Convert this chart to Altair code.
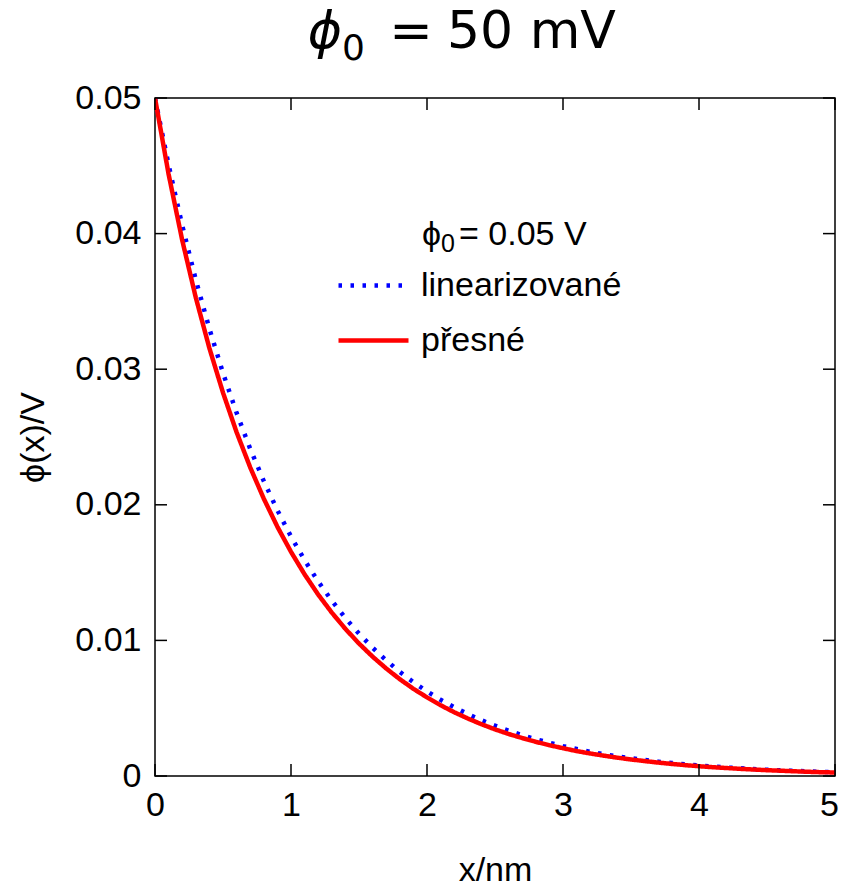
import altair as alt
import pandas as pd

# ---- data ----
x_nm = [0.0, 0.1, 0.2, 0.3, 0.4, 0.5, 0.6, 0.7, 0.8, 0.9,
        1.0, 1.1, 1.2, 1.3, 1.4, 1.5, 1.6, 1.7, 1.8, 1.9,
        2.0, 2.1, 2.2, 2.3, 2.4, 2.5, 2.6, 2.7, 2.8, 2.9,
        3.0, 3.1, 3.2, 3.3, 3.4, 3.5, 3.6, 3.7, 3.8, 3.9,
        4.0, 4.1, 4.2, 4.3, 4.4, 4.5, 4.6, 4.7, 4.8, 4.9, 5.0]

phi_linearized = [0.05000, 0.04506, 0.04061, 0.03659, 0.03298, 0.02972, 0.02678, 0.02413, 0.02175, 0.01960,
                  0.01766, 0.01592, 0.01434, 0.01293, 0.01165, 0.01050, 0.00946, 0.00853, 0.00768, 0.00692,
                  0.00624, 0.00562, 0.00507, 0.00457, 0.00412, 0.00371, 0.00334, 0.00301, 0.00271, 0.00245,
                  0.00220, 0.00199, 0.00179, 0.00161, 0.00145, 0.00131, 0.00118, 0.00106, 0.00096, 0.00086,
                  0.00078, 0.00070, 0.00063, 0.00057, 0.00051, 0.00046, 0.00042, 0.00038, 0.00034, 0.00031, 0.00028]

phi_exact = [0.05000, 0.04438, 0.03952, 0.03528, 0.03155, 0.02827, 0.02535, 0.02276, 0.02045, 0.01838,
             0.01653, 0.01487, 0.01338, 0.01205, 0.01085, 0.00977, 0.00880, 0.00793, 0.00714, 0.00643,
             0.00580, 0.00522, 0.00470, 0.00424, 0.00382, 0.00344, 0.00310, 0.00280, 0.00252, 0.00227,
             0.00205, 0.00184, 0.00166, 0.00150, 0.00135, 0.00122, 0.00110, 0.00099, 0.00089, 0.00080,
             0.00072, 0.00065, 0.00059, 0.00053, 0.00048, 0.00043, 0.00039, 0.00035, 0.00031, 0.00028, 0.00026]

series_names = ["linearizované", "přesné"]
series_colors = ["#0000ff", "#ff0000"]
x_ticks = [0, 1, 2, 3, 4, 5]
y_ticks = [0, 0.01, 0.02, 0.03, 0.04, 0.05]
# text pieces: symbol, subscript, rest
legend_title_parts = ["ϕ", "0", "= 0.05 V"]
chart_title_parts = ["ϕ", "0", "=", "50 mV"]

# ---- tables ----
n = len(x_nm)
df = pd.DataFrame({
    "x": x_nm + x_nm,
    "phi": phi_linearized + phi_exact,
    "series": [series_names[0]] * n + [series_names[1]] * n,
})
xt = pd.DataFrame({"x": x_ticks})
yt = pd.DataFrame({"phi": y_ticks})

W, H = 680, 678
TICK = 12
FONT = "Liberation Sans"
FS = 34

x_scale = alt.Scale(domain=[0, 5], nice=False, zero=False)
y_scale = alt.Scale(domain=[0, 0.05], nice=False, zero=False)

legend = alt.Legend(
    title=None, orient="none", legendX=181, legendY=150,
    symbolType="stroke", symbolSize=4900, symbolStrokeWidth=4.5,
    labelFont=FONT, labelFontSize=FS, labelColor="black", labelLimit=600,
    labelOffset=10, rowPadding=-18, padding=0,
)

lines = alt.Chart(df).mark_line(strokeWidth=4.5, strokeCap="butt", clip=True).encode(
    x=alt.X("x:Q", scale=x_scale,
            axis=alt.Axis(title="x/nm", values=x_ticks, format="d", labelFlush=False,
                          labelOffset={"condition": {"test": "datum.value == 5", "value": -6}, "value": 0},
                          labelPadding=12, titlePadding=31)),
    y=alt.Y("phi:Q", scale=y_scale,
            axis=alt.Axis(title="ϕ(x)/V", values=y_ticks, labelFlush=False,
                          labelExpr="datum.value == 0 ? '0' : format(datum.value, '.2f')",
                          labelPadding=14, titlePadding=24)),
    color=alt.Color("series:N", scale=alt.Scale(domain=series_names, range=series_colors),
                    legend=legend),
    strokeDash=alt.StrokeDash("series:N",
                              scale=alt.Scale(domain=series_names, range=[[3.5, 8.5], [1, 0]]),
                              legend=legend),
    order=alt.Order("x:Q"),
)

tick_style = dict(color="black", strokeWidth=1.5)
x_bottom = alt.Chart(xt).mark_rule(**tick_style).encode(
    x=alt.X("x:Q", scale=x_scale), y=alt.value(H), y2=alt.value(H - TICK))
x_top = alt.Chart(xt).mark_rule(**tick_style).encode(
    x=alt.X("x:Q", scale=x_scale), y=alt.value(0), y2=alt.value(TICK))
y_left = alt.Chart(yt).mark_rule(**tick_style).encode(
    y=alt.Y("phi:Q", scale=y_scale), x=alt.value(0), x2=alt.value(TICK))
y_right = alt.Chart(yt).mark_rule(**tick_style).encode(
    y=alt.Y("phi:Q", scale=y_scale), x=alt.value(W), x2=alt.value(W - TICK))


def text_piece(s, x, y, font, size, align="left", style="normal"):
    return alt.Chart(pd.DataFrame({"t": [s]})).mark_text(
        align=align, baseline="alphabetic", font=font, fontSize=size,
        fontStyle=style, color="black"
    ).encode(x=alt.value(x), y=alt.value(y), text="t:N")


# legend heading  "ϕ0 = 0.05 V" with subscript 0
lt1 = text_piece(legend_title_parts[0], 267, 147, FONT, FS)
lt2 = text_piece(legend_title_parts[1], 286, 154, FONT, 25)
lt3 = text_piece(legend_title_parts[2], 304, 147, FONT, FS)

# chart title  "ϕ0 = 50 mV" with subscript 0
ct1 = text_piece(chart_title_parts[0], 187, -50, "DejaVu Sans", 52, align="right", style="italic")
ct2 = text_piece(chart_title_parts[1], 187, -38, "DejaVu Sans", 36)
ct3 = text_piece(chart_title_parts[2], 256, -50, "DejaVu Sans", 52, align="center")
ct4 = text_piece(chart_title_parts[3], 292, -50, "DejaVu Sans", 52)

chart = alt.layer(lines, x_bottom, x_top, y_left, y_right,
                  lt1, lt2, lt3, ct1, ct2, ct3, ct4).properties(
    width=W, height=H,
    padding={"left": 147, "top": 90, "right": 4, "bottom": 111},
    autosize=alt.AutoSizeParams(type="none"),
).configure_view(
    stroke="black", strokeWidth=1.5
).configure_axis(
    domain=False, ticks=False, grid=False,
    labelFont=FONT, labelFontSize=FS, labelColor="black",
    titleFont=FONT, titleFontSize=FS, titleFontWeight="normal", titleColor="black",
)

chart.save("out.html", embed_options={"renderer": "svg", "actions": False})
